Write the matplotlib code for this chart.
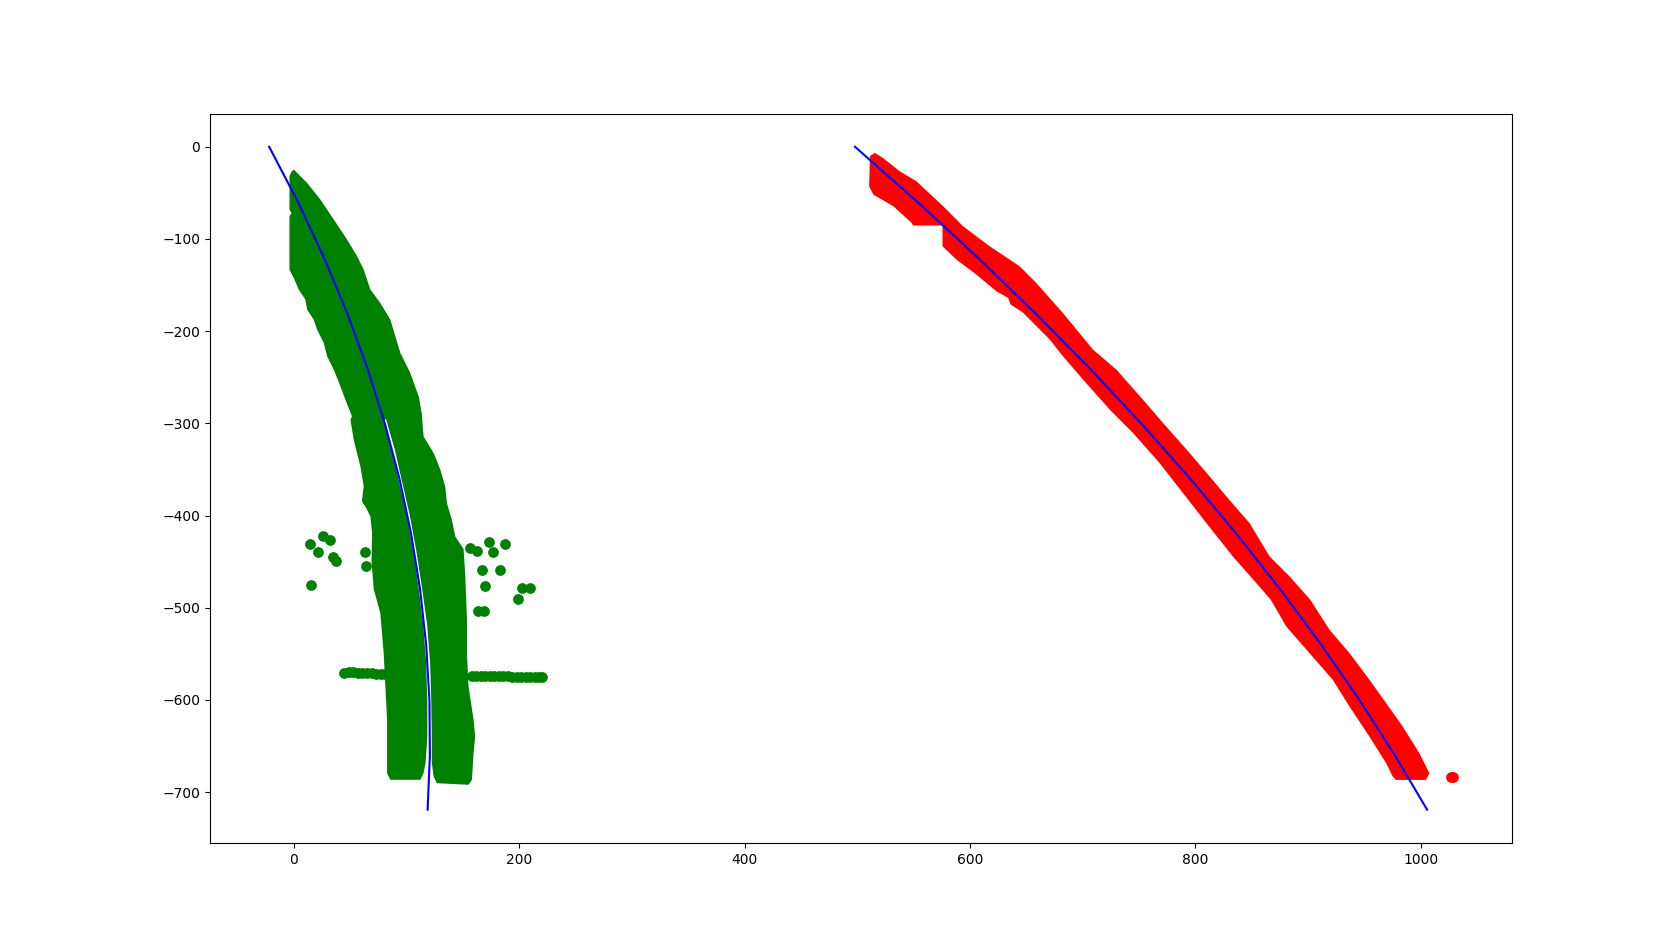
import matplotlib
matplotlib.use("Agg")
import matplotlib.pyplot as plt

# blue fitted curves (x read at y = 0, -60, ..., -719)
fit_y = [0, -60, -120, -180, -240, -300, -360, -420, -480, -540, -600, -660, -719]
left_fit_x = [-21.8, 3.8, 26.8, 47.3, 65.3, 80.8, 93.8, 104.2, 112.1, 117.5, 120.4, 120.8, 118.8]
right_fit_x = [498.0, 553.6, 606.8, 657.6, 706.0, 752.0, 795.5, 836.6, 875.4, 911.7, 945.6, 977.1, 1005.7]

# left lane pixels: upper body + left strip outline
green_a_x = [0, 11.8, 23.6, 35.5, 47.3, 56.2, 62.1, 68, 76.8, 85.7, 94.6, 103.4, 110.8, 113.8,
             79.5, 87.5, 92.8, 100.5, 106.5, 111, 115, 117.5, 118.5, 118.5, 117, 115.2,
             112.3, 85.7, 82.8, 82.8, 81.3, 79.8, 78.3, 76.8, 71, 69, 69.5, 68, 60.6, 62.1,
             59.1, 53.2, 50.3, 51.7, 45.8, 41.4, 35.5, 29.6, 26.6, 20.7, 17.7, 11.8, 10.3, 4.4,
             0, -3.8, -3.8, -2, -3.8, -3.8, -2]
green_a_y = [-24.6, -39.1, -57.2, -78.9, -100.6, -118.7, -133.2, -154.9, -169.4, -187.4, -223.6,
             -245.3, -270.6, -292.4, -296, -330, -360, -400, -440, -480, -520, -560, -600, -640,
             -668, -679.4, -686.6, -686.6, -679.4, -621.5, -585.4, -549.2, -527.5, -505.8, -480,
             -450, -418.9, -400.9, -383, -368.3, -346.6, -317.7, -296, -292.4, -274.3, -259.8,
             -241.7, -227.2, -212.7, -198.3, -187.4, -176.5, -165.7, -154.9, -142.2, -133.5,
             -75.3, -72, -68, -31.9, -27]

# left lane pixels: right strip outline
green_b_x = [82, 100, 110.8, 113.8, 115.2, 124.1, 130, 134.4, 135.9, 140.3, 143.3, 150.7, 152.2,
             153.7, 153.7, 155.1, 159.6, 161, 159.6, 158.1, 155.1, 127, 124.1, 122.5, 122.5,
             122, 121, 118.5, 114, 109, 103, 95.5, 90]
green_b_y = [-296, -280, -270.6, -292.4, -314.1, -332.1, -350, -368.3, -386.4, -404.5, -422.6,
             -436.2, -465.2, -513, -549.2, -585.4, -621.5, -639.6, -657.7, -686.6, -692, -690.3,
             -683.1, -668, -640, -600, -560, -520, -480, -440, -400, -360, -330]

# left lane pixels: horizontal bars and loose blobs
bar_left_x = [45, 49, 53, 57, 61, 65, 69, 73, 77, 81]
bar_left_y = [-571, -570, -570, -570.5, -571, -571, -571, -571.5, -571.5, -572]
bar_right_x = [158, 162, 166, 170, 174, 178, 182, 186, 190, 194, 198, 202, 206, 210, 214, 218, 220.5]
bar_right_y = [-573.5, -573.5, -574, -574, -574, -574, -574.5, -574.5, -574.5, -575, -575,
               -575, -575, -575.5, -575.5, -575.5, -575.5]
blob_x = [26.1, 31.9, 14.8, 21.3, 34.5, 37.5, 15.4, 63.6, 64.5, 65.4, 156.6, 162.6, 172.9,
          187.7, 176.4, 167, 183.2, 169.3, 202.5, 209.2, 198.6, 163.5, 168.4]
blob_y = [-421.9, -426.2, -430.5, -439.2, -445, -449.5, -475.8, -440, -455.2, -383.2, -435.2,
          -438.8, -429.1, -430.5, -440, -459.5, -459.5, -476.1, -478.6, -478.6, -490.2,
          -503.3, -503.3]

# right lane pixels outline
red_x = [511.3, 515.7, 523.1, 537.7, 552.5, 576.2, 593.9, 617.5, 644.1, 658.9, 682.5, 709.2,
         730, 753.5, 771.3, 794.9, 812.7, 827.5, 848.1, 865.9, 883.6, 902, 919.1, 936.8, 954.5,
         969.3, 984, 998.8, 1007.7, 1004.8, 978.2, 975.2, 969.3, 954.5, 936.8, 922, 901.3,
         880.7, 867, 854.1, 833.3, 809.8, 789, 768.3, 744.7, 724.1, 700.4, 682.6, 670.8, 647.2,
         636, 634, 623.6, 605.8, 588.1, 575.7, 575.7, 549.6, 548.2, 532, 514.2, 510.6]
red_y = [-10.2, -6.5, -12.4, -26.5, -37.4, -64.4, -86.2, -107.9, -129.6, -147.7, -180.3, -220,
         -241.7, -274.3, -299.5, -332.1, -357.5, -379.2, -408.1, -444.3, -466, -491.3, -523.9,
         -549.2, -578.1, -603.4, -628.8, -657.7, -679.4, -686.7, -686.7, -683.1, -668.5, -639.7,
         -607.1, -578.1, -549.2, -520.3, -491.3, -473.2, -444.3, -408.1, -375.5, -343, -310.4,
         -285.1, -252.5, -227.3, -209, -180, -171, -164, -156.8, -138.7, -122.4, -107.9, -85.4,
         -85.4, -82.5, -64.4, -51.8, -42.8]
red_dot_x = [1026.5, 1028.5]
red_dot_y = [-683.7, -683.7]

fig, ax = plt.subplots(figsize=(16.8, 9.47), dpi=100)

ax.fill(green_a_x, green_a_y, color='green', lw=0)
ax.fill(green_b_x, green_b_y, color='green', lw=0)
ax.scatter(bar_left_x, bar_left_y, color='green', s=45)
ax.scatter(bar_right_x, bar_right_y, color='green', s=45)
ax.scatter(blob_x, blob_y, color='green', s=45)

ax.fill(red_x, red_y, color='red', lw=0)
ax.scatter(red_dot_x, red_dot_y, color='red', s=45)

ax.plot(left_fit_x, fit_y, color='blue')
ax.plot(right_fit_x, fit_y, color='blue')

fig.savefig("out.png", dpi=100)
